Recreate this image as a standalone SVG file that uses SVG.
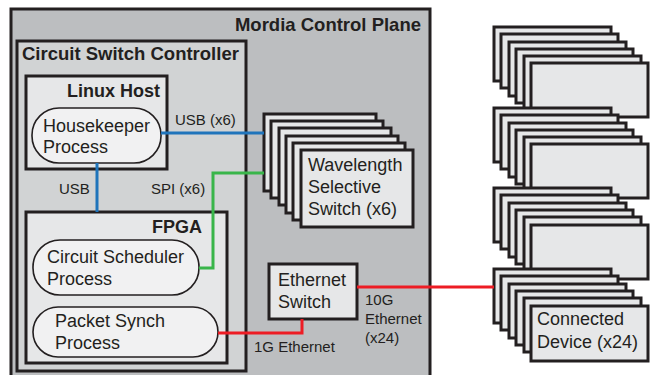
<svg xmlns="http://www.w3.org/2000/svg" width="651" height="375" viewBox="0 0 651 375">
<defs>
<style>
.frame{stroke:#231f20;stroke-width:3}
.plane{fill:#bcbec0}
.ctrl{fill:#d1d3d4}
.box{fill:#e6e7e8}
.pill{fill:#f1f1f2;stroke:#231f20;stroke-width:1.6}
.t{font-family:"Liberation Sans",Arial,sans-serif;font-size:18px;fill:#231f20}
.b{font-weight:bold}
.l{font-family:"Liberation Sans",Arial,sans-serif;font-size:15px;fill:#231f20}
.w{fill:none;stroke-width:3}
.blue{stroke:#1f74bb}
.green{stroke:#39b54a}
.red{stroke:#ed1c24}
</style>
</defs>
<rect width="651" height="375" fill="#ffffff"/>
<g id="mordia-control-plane">
<rect class="plane frame" x="11" y="9" width="419" height="380"/>
<text class="t b" x="421" y="31" text-anchor="end" style="font-size:18.5px">Mordia Control Plane</text>
</g>
<g id="circuit-switch-controller">
<rect class="ctrl frame" x="17" y="41" width="229" height="330"/>
<text class="t b" x="22" y="60" style="font-size:18.5px">Circuit Switch Controller</text>
</g>
<g id="linux-host">
<rect class="box frame" x="26" y="76" width="141" height="93"/>
<text class="t b" x="160" y="97" text-anchor="end">Linux Host</text>
</g>
<g id="housekeeper">
<rect class="pill" x="32" y="108" width="129" height="55" rx="27"/>
<text class="t" x="43" y="132">Housekeeper</text>
<text class="t" x="43" y="153">Process</text>
</g>
<g id="fpga">
<rect class="box frame" x="26" y="212" width="201" height="151"/>
<text class="t b" x="202" y="233" text-anchor="end">FPGA</text>
</g>
<g id="circuit-scheduler">
<rect class="pill" x="33" y="240" width="166" height="55" rx="27"/>
<text class="t" x="47" y="263">Circuit Scheduler</text>
<text class="t" x="47" y="285">Process</text>
</g>
<g id="packet-synch">
<rect class="pill" x="33" y="307" width="185" height="50" rx="25"/>
<text class="t" x="55" y="327">Packet Synch</text>
<text class="t" x="55" y="349">Process</text>
</g>
<g id="ethernet-switch">
<rect class="box frame" x="269" y="264" width="88" height="55"/>
<text class="t" x="278" y="286">Ethernet</text>
<text class="t" x="278" y="308">Switch</text>
</g>
<g id="wss">
<rect class="box frame" x="264" y="114" width="112" height="77"/>
<rect class="box frame" x="271" y="121" width="112" height="77"/>
<rect class="box frame" x="279" y="128" width="112" height="77"/>
<rect class="box frame" x="286" y="136" width="112" height="77"/>
<rect class="box frame" x="293" y="143" width="112" height="77"/>
<rect class="box frame" x="301" y="150" width="112" height="77"/>
<text class="t" x="308" y="171">Wavelength</text>
<text class="t" x="308" y="193">Selective</text>
<text class="t" x="308" y="215">Switch (x6)</text>
</g>
<g id="devices-1">
<rect class="box frame" x="494" y="27" width="117" height="54"/>
<rect class="box frame" x="501" y="34" width="117" height="54"/>
<rect class="box frame" x="509" y="42" width="117" height="54"/>
<rect class="box frame" x="516" y="49" width="117" height="54"/>
<rect class="box frame" x="524" y="56" width="117" height="54"/>
<rect class="box frame" x="531" y="63" width="117" height="54"/>
</g>
<g id="devices-2">
<rect class="box frame" x="494" y="108" width="117" height="54"/>
<rect class="box frame" x="501" y="115" width="117" height="54"/>
<rect class="box frame" x="509" y="123" width="117" height="54"/>
<rect class="box frame" x="516" y="130" width="117" height="54"/>
<rect class="box frame" x="524" y="137" width="117" height="54"/>
<rect class="box frame" x="531" y="144" width="117" height="54"/>
</g>
<g id="devices-3">
<rect class="box frame" x="494" y="188" width="117" height="54"/>
<rect class="box frame" x="501" y="195" width="117" height="54"/>
<rect class="box frame" x="509" y="203" width="117" height="54"/>
<rect class="box frame" x="516" y="210" width="117" height="54"/>
<rect class="box frame" x="524" y="217" width="117" height="54"/>
<rect class="box frame" x="531" y="225" width="117" height="54"/>
</g>
<g id="devices-4">
<rect class="box frame" x="494" y="269" width="117" height="54"/>
<rect class="box frame" x="501" y="276" width="117" height="54"/>
<rect class="box frame" x="509" y="284" width="117" height="54"/>
<rect class="box frame" x="516" y="291" width="117" height="54"/>
<rect class="box frame" x="524" y="298" width="117" height="54"/>
<rect class="box frame" x="531" y="306" width="117" height="55"/>
<text class="t" x="537" y="325">Connected</text>
<text class="t" x="537" y="348">Device (x24)</text>
</g>
<g id="connectors">
<path class="w blue" d="M161,133 H264"/>
<path class="w blue" d="M97,163 V212"/>
<path class="w green" d="M199,268 H213 V173 H264"/>
<path class="w red" d="M218,333 H302 V319"/>
<path class="w red" d="M357,287 H494"/>
<text class="l" x="175" y="125">USB (x6)</text>
<text class="l" x="59" y="194">USB</text>
<text class="l" x="151" y="194">SPI (x6)</text>
<text class="l" x="254" y="352">1G Ethernet</text>
<text class="l" x="365" y="305">10G</text>
<text class="l" x="365" y="324">Ethernet</text>
<text class="l" x="365" y="343">(x24)</text>
</g>
</svg>
